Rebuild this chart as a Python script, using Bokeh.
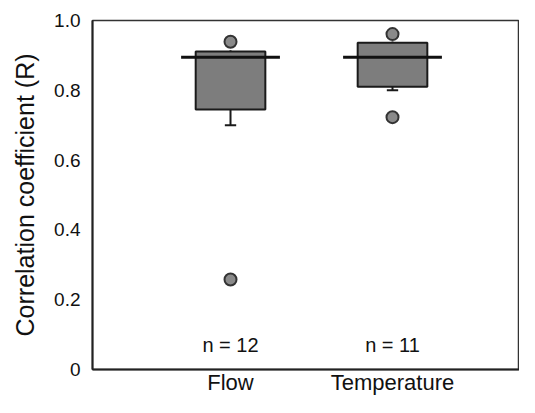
from bokeh.plotting import figure
from bokeh.models import Range1d, FixedTicker
from bokeh.core.properties import value
from bokeh.embed import file_html
from bokeh.resources import INLINE

# ---- data ----
categories = ["Flow", "Temperature"]
q1 = [0.745, 0.810]
q3 = [0.911, 0.936]
medians = [0.895, 0.895]
whisker_low = [0.700, 0.800]
whisker_high = [0.915, 0.940]
outlier_group = ["Flow", "Flow", "Temperature", "Temperature"]
outlier_values = [0.939, 0.258, 0.961, 0.723]
n_counts = [12, 11]
y_ticks = [0, 0.2, 0.4, 0.6, 0.8, 1.0]

FONT = "Liberation Sans"

xpos = [i + 1 for i in range(len(categories))]
pos_of = {c: i + 1 for i, c in enumerate(categories)}
ox = [pos_of[g] for g in outlier_group]

p = figure(width=519, height=397, output_backend="svg", toolbar_location=None,
           x_range=Range1d(0.148, 2.784), y_range=Range1d(0, 1.0),
           min_border_left=92, min_border_right=0, min_border_top=20,
           min_border_bottom=20)
p.xgrid.visible = False
p.ygrid.visible = False
p.outline_line_color = "#333333"
p.outline_line_width = 1.5
p.background_fill_color = "white"
p.border_fill_color = "white"

box_w = 0.43
mid_w = 0.61
cap_w = 0.07

# whiskers
p.segment(xpos, q1, xpos, whisker_low, line_color="#1a1a1a", line_width=2)
p.segment(xpos, q3, xpos, whisker_high, line_color="#1a1a1a", line_width=2)
p.segment([x - cap_w / 2 for x in xpos], whisker_low, [x + cap_w / 2 for x in xpos], whisker_low,
          line_color="#1a1a1a", line_width=2)
# boxes
p.vbar(x=xpos, width=box_w, bottom=q1, top=q3, fill_color="#7d7d7d",
       line_color="#1a1a1a", line_width=2)
# median lines
p.segment([x - mid_w / 2 for x in xpos], medians, [x + mid_w / 2 for x in xpos], medians,
          line_color="#111111", line_width=3)
# outliers
p.scatter(ox, outlier_values, size=12, fill_color="#8a8a8a", line_color="#333333", line_width=2)

# n labels
p.text(xpos, [0.07] * len(xpos), text=[f"n = {n}" for n in n_counts],
       text_align="center", text_baseline="middle", text_font=value(FONT),
       text_font_size="20px", text_color="#111111")

# axes
p.xaxis.ticker = FixedTicker(ticks=xpos)
p.xaxis.major_label_overrides = {x: c for x, c in zip(xpos, categories)}
p.xaxis.major_tick_line_color = None
p.xaxis.minor_tick_line_color = None
p.xaxis.major_tick_out = 0
p.xaxis.major_label_standoff = 0
p.xaxis.major_label_text_font = FONT
p.xaxis.major_label_text_font_size = "22px"
p.xaxis.major_label_text_color = "#111111"
p.xaxis.axis_line_width = 2
p.xaxis.axis_line_color = "#222222"

p.yaxis.ticker = FixedTicker(ticks=y_ticks)
p.yaxis.major_label_overrides = {t: ("0" if t == 0 else f"{t:.1f}") for t in y_ticks}
p.yaxis.major_tick_line_color = None
p.yaxis.minor_tick_line_color = None
p.yaxis.major_tick_out = 0
p.yaxis.major_label_standoff = 12
p.yaxis.major_label_text_font = FONT
p.yaxis.major_label_text_font_size = "19px"
p.yaxis.major_label_text_color = "#111111"
p.yaxis.axis_line_width = 2
p.yaxis.axis_line_color = "#222222"
p.yaxis.axis_label = "Correlation coefficient (R)"
p.yaxis.axis_label_text_font = FONT
p.yaxis.axis_label_text_font_size = "25px"
p.yaxis.axis_label_text_font_style = "normal"
p.yaxis.axis_label_text_color = "#111111"
p.yaxis.axis_label_standoff = 12

open("out.html", "w").write(file_html(p, INLINE))
